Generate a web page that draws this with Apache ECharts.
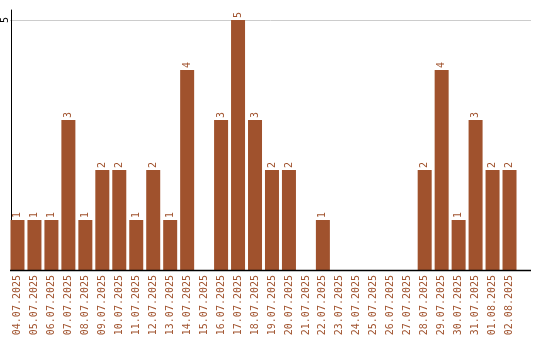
<!DOCTYPE html>
<html>
<head>
<meta charset="utf-8">
<script src="https://cdn.jsdelivr.net/npm/echarts@6/dist/echarts.min.js"></script>
<style>
html,body{margin:0;padding:0;background:#fff;}
#chart{width:540px;height:340px;}
</style>
</head>
<body>
<div id="chart"></div>
<script>
const categories = ['04.07.2025','05.07.2025','06.07.2025','07.07.2025','08.07.2025','09.07.2025','10.07.2025','11.07.2025','12.07.2025','13.07.2025','14.07.2025','15.07.2025','16.07.2025','17.07.2025','18.07.2025','19.07.2025','20.07.2025','21.07.2025','22.07.2025','23.07.2025','24.07.2025','25.07.2025','26.07.2025','27.07.2025','28.07.2025','29.07.2025','30.07.2025','31.07.2025','01.08.2025','02.08.2025'];
const values = [1,1,1,3,1,2,2,1,2,1,4,0,3,5,3,2,2,0,1,0,0,0,0,0,2,4,1,3,2,2];
const yTickLabels = [5];

const brown = '#A0522D';
const mono = 'DejaVu Sans Mono';
const chart = echarts.init(document.getElementById('chart'), null, {renderer:'canvas'});
chart.setOption({
  animation:false,
  grid:{left:8, top:10, width:510, bottom:70, containLabel:false},
  xAxis:{
    type:'category', data:categories,
    axisLine:{show:false}, axisTick:{show:false},
    axisLabel:{rotate:90, interval:0, color:brown, fontFamily:mono, fontSize:10, margin:5}
  },
  yAxis:{
    type:'value', min:0, max:5.2, interval:5, offset:-2,
    axisLine:{show:true, lineStyle:{color:'#000', width:1}},
    axisTick:{show:false}, splitLine:{show:false},
    axisLabel:{rotate:90, color:'#000', fontFamily:mono, fontSize:10, margin:1,
      formatter:v => yTickLabels.includes(v) ? String(v) : ''}
  },
  series:[{
    type:'bar', data:values, barWidth:14,
    itemStyle:{color:brown},
    label:{show:true, position:'top', rotate:90, align:'left', verticalAlign:'middle', distance:2,
      color:brown, fontFamily:mono, fontSize:10,
      formatter:p => p.value ? String(p.value) : ''}
  }]
});
const y0 = Math.round(chart.convertToPixel({yAxisIndex:0}, 0)) + 0.5;
const yGrid = yTickLabels.map(t => Math.round(chart.convertToPixel({yAxisIndex:0}, t)) + 0.5);
const gl = [];
yGrid.forEach(y => gl.push({type:'line', silent:true, z:-1, shape:{x1:10, y1:y, x2:531, y2:y}, style:{stroke:'#cccccc', lineWidth:1}}));
gl.push({type:'line', silent:true, z:100, shape:{x1:10, y1:y0, x2:531, y2:y0}, style:{stroke:'#000', lineWidth:1.5}});
chart.setOption({graphic:gl});
</script>
</body>
</html>
